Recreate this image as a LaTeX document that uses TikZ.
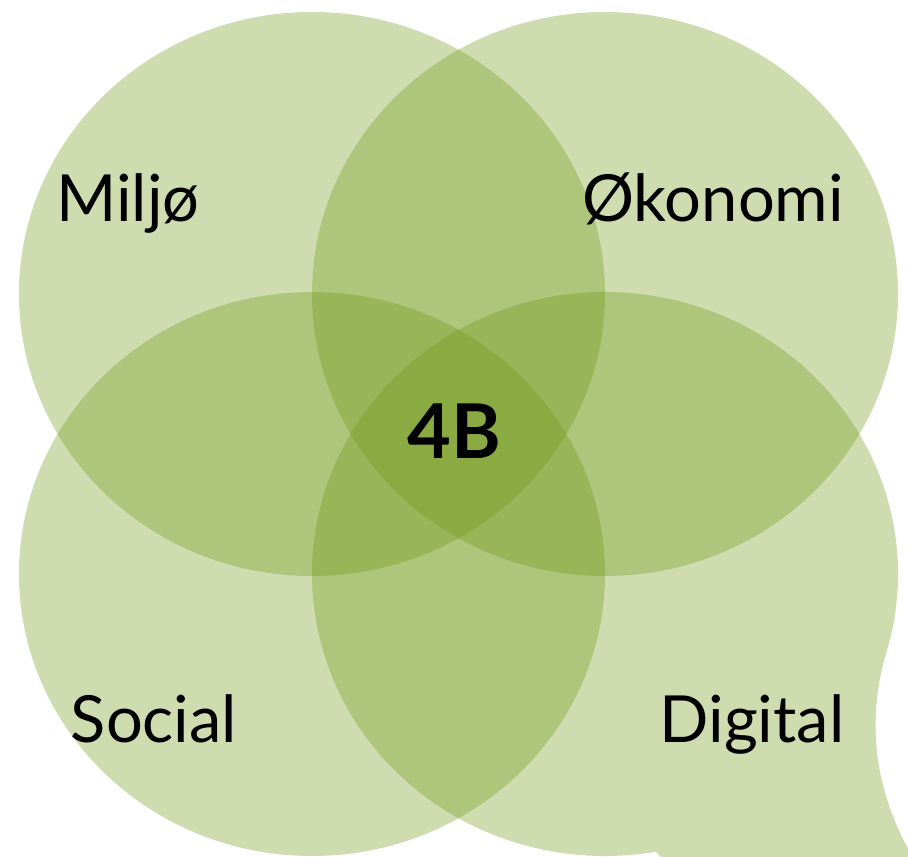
\documentclass[tikz,border=0pt]{standalone}
\usepackage{fontspec}
\setmainfont{Lato}
\definecolor{VennGreen}{RGB}{107,149,16}
\usepackage{tikz}
\usetikzlibrary{positioning}

\begin{document}
\begin{tikzpicture}[x=0.02cm, y=0.02cm,
    venn/.style={fill=VennGreen, fill opacity=0.33},
    area/.style={font=\fontsize{37pt}{40pt}\selectfont, anchor=base, inner sep=0pt},
    core/.style={font=\fontsize{43pt}{46pt}\selectfont\bfseries, anchor=base, inner sep=0pt}]
  \clip (0,0) rectangle (908,856);
  % the four fields
  \fill[venn] (312,562) ellipse [x radius=293, y radius=282];
  \fill[venn] (605,562) ellipse [x radius=293, y radius=282];
  \fill[venn] (312,282) ellipse [x radius=293, y radius=282];
  % lower right one carries the speech tail
  \fill[venn] (888,209) arc [start angle=345, end angle=640, x radius=293, y radius=282]
    -- (700,-40) -- (925,-20) .. controls (870,60) and (866,140) .. (888,209) -- cycle;
  % labels
  \node[area] (miljo)   at (128,634) {Miljø};
  \node[area] (okonomi) at (713,634) {Økonomi};
  \node[area] (social)  at (154,114) {Social};
  \node[area] (digital) at (752,114) {Digital};
  \node[core] (kerne)   at (454,398) {4B};
\end{tikzpicture}
\end{document}
